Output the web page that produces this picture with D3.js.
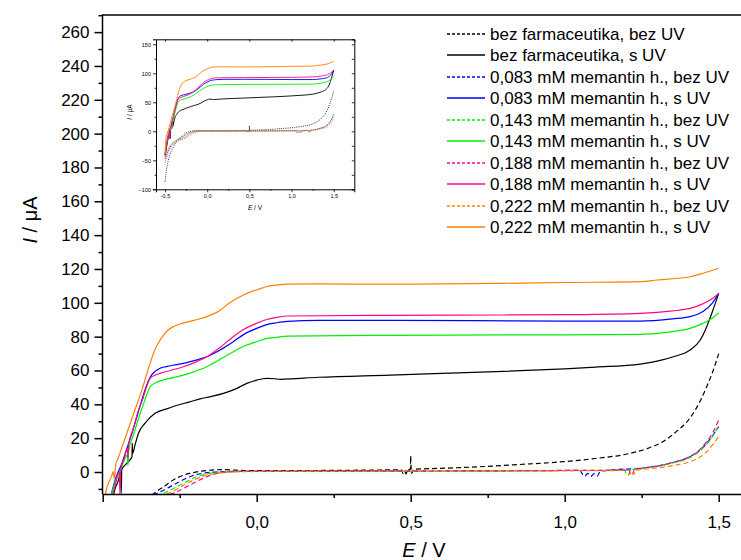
<!DOCTYPE html>
<html><head><meta charset="utf-8">
<script src="https://cdn.jsdelivr.net/npm/d3@7"></script>
<style>body{margin:0;background:#fff}svg{display:block;font-family:Arial,"Liberation Sans",sans-serif}</style>
</head><body><svg id="c" width="741" height="560"></svg>
<script>
// ---------- DATA ----------
const legendLabels = [
  "bez farmaceutika, bez UV","bez farmaceutika, s UV",
  "0,083 mM memantin h., bez UV","0,083 mM memantin h., s UV",
  "0,143 mM memantin h., bez UV","0,143 mM memantin h., s UV",
  "0,188 mM memantin h., bez UV","0,188 mM memantin h., s UV",
  "0,222 mM memantin h., bez UV","0,222 mM memantin h., s UV"];
const seriesColors = ["#000000","#000000","#0000ff","#0000ff","#00f000","#00f000","#ff0a84","#ff0a84","#ff8000","#ff8000"];
const seriesDashed = [true,false,true,false,true,false,true,false,true,false];
const xTickLabels = ["0,0","0,5","1,0","1,5"];
const insetXTickLabels = ["-0,5","0,0","0,5","1,0","1,5"];

const blankNoUV = [[-0.5,-87],[-0.48,-64],[-0.46,-50],[-0.44,-40],[-0.4,-27],[-0.36,-17],[-0.336,-13],[-0.3,-8.5],[-0.271,-4.7],[-0.24,-2],[-0.217,-0.8],[-0.19,0.2],[-0.162,0.9],[-0.135,1.3],[-0.108,1.4],[-0.08,1.2],[-0.04,0.9],[0,0.8],[0.1,0.8],[0.2,0.9],[0.3,1.0],[0.4,1.2],[0.47,1.3],[0.475,-0.8],[0.48,0.6],[0.485,-1.2],[0.49,1.4],[0.499,1.5],[0.5,9.5],[0.501,4],[0.503,-0.8],[0.51,1.6],[0.6,2.2],[0.725,3.1],[0.85,4.4],[0.995,6.1],[1.1,8],[1.212,11],[1.27,14],[1.32,18],[1.36,23.5],[1.407,32],[1.44,42],[1.461,50.4],[1.48,59],[1.5,70]];
const blankUV = [[-0.5,-42],[-0.48,-26],[-0.46,-10],[-0.445,-2],[-0.442,1.2],[-0.44,-12.6],[-0.438,1.5],[-0.425,4.5],[-0.41,7.5],[-0.405,9],[-0.404,17],[-0.403,11],[-0.395,16],[-0.384,22.9],[-0.363,28.8],[-0.33,34.7],[-0.287,37.6],[-0.255,39.6],[-0.22,41.3],[-0.184,43.2],[-0.15,44.6],[-0.108,46.5],[-0.07,49],[-0.032,52.4],[0.0,54.3],[0.032,55.4],[0.06,55.1],[0.076,54.8],[0.2,56],[0.433,57.3],[0.6,58.3],[0.8,59.5],[1.0,61],[1.1,62],[1.245,63.8],[1.3,65.5],[1.353,68.1],[1.407,72.1],[1.44,78],[1.461,85.9],[1.48,95],[1.5,105.6]];

const c083NoUV = [[-0.5,-48],[-0.47,-36],[-0.44,-27],[-0.4,-20],[-0.36,-15],[-0.319,-12.2],[-0.271,-7.7],[-0.217,-2.8],[-0.162,-0.4],[-0.108,0.2],[-0.05,0.4],[0,0.4],[0.3,0.5],[0.6,0.6],[0.9,0.8],[1.05,1.0],[1.055,-0.5],[1.065,-2.5],[1.075,-0.8],[1.085,-2.6],[1.095,-1],[1.105,-2.5],[1.115,0.2],[1.15,1.2],[1.245,2.2],[1.3,3.5],[1.35,5.5],[1.407,9],[1.44,13],[1.461,17],[1.48,21.5],[1.5,26.8]];
const c083UV = [[-0.5,-40],[-0.48,-20],[-0.465,-8],[-0.45,0],[-0.44,4],[-0.425,12],[-0.41,20],[-0.39,32],[-0.373,42.5],[-0.36,50],[-0.346,56],[-0.33,59.5],[-0.314,61.3],[-0.28,62.8],[-0.238,64.2],[-0.2,66],[-0.162,68.1],[-0.12,72],[-0.076,77],[-0.04,81.5],[0,84.9],[0.03,87],[0.065,88.2],[0.1,89],[0.2,89.6],[0.433,89.6],[0.7,89.5],[1.0,89.2],[1.245,89.2],[1.35,90.5],[1.407,91.8],[1.45,95],[1.48,100],[1.5,105.6]];

const c143NoUV = [[-0.5,-46],[-0.47,-34],[-0.44,-26],[-0.4,-19],[-0.35,-15],[-0.298,-12.2],[-0.249,-7.7],[-0.195,-2.8],[-0.13,-0.2],[-0.06,0.3],[0,0.4],[0.3,0.5],[0.6,0.6],[0.9,0.8],[1.1,1.0],[1.195,1.1],[1.2,-1.5],[1.205,-2],[1.21,-0.5],[1.215,1.3],[1.245,2.0],[1.3,3.3],[1.35,5.3],[1.407,8.6],[1.44,12.5],[1.461,16.5],[1.48,21],[1.5,27.5]];
const c143UV = [[-0.5,-38],[-0.48,-20],[-0.46,-6],[-0.44,2],[-0.43,7],[-0.42,10],[-0.418,4],[-0.416,12],[-0.4,22],[-0.385,31],[-0.363,42.5],[-0.346,50.4],[-0.325,53],[-0.303,54.4],[-0.27,55.8],[-0.238,57.3],[-0.2,59.5],[-0.162,62.2],[-0.12,66.5],[-0.076,71.1],[-0.04,74.5],[0,77],[0.03,78.8],[0.065,79.6],[0.1,80.3],[0.433,80.8],[0.8,81],[1.0,81.1],[1.245,81.4],[1.35,83],[1.407,84.9],[1.45,88],[1.48,91],[1.5,94.1]];

const c188NoUV = [[-0.5,-55],[-0.47,-40],[-0.44,-30],[-0.4,-22],[-0.33,-16],[-0.265,-12.2],[-0.217,-7.7],[-0.162,-2.8],[-0.108,-0.2],[-0.05,0.3],[0,0.4],[0.3,0.5],[0.6,0.6],[0.9,0.8],[1.1,1.0],[1.21,1.1],[1.213,-1.5],[1.218,-2],[1.222,-0.5],[1.226,1.3],[1.245,2.1],[1.3,3.5],[1.35,5.6],[1.407,9.2],[1.44,13.5],[1.461,18],[1.48,23],[1.5,30.7]];
const c188UV = [[-0.5,-42],[-0.48,-24],[-0.46,-8],[-0.446,0],[-0.444,-13],[-0.442,1],[-0.43,8],[-0.42,14],[-0.418,8],[-0.416,16],[-0.4,26],[-0.385,36],[-0.371,42.5],[-0.36,49],[-0.346,55.4],[-0.33,57.2],[-0.314,58.3],[-0.28,60],[-0.238,62.2],[-0.2,64.8],[-0.162,68.1],[-0.12,73.5],[-0.076,80],[-0.04,84.5],[0,87.9],[0.03,90],[0.065,91.4],[0.1,92.2],[0.433,92.6],[0.8,92.8],[1.0,93],[1.245,93.8],[1.35,95.2],[1.407,96.7],[1.45,99.5],[1.48,102.5],[1.5,105.6]];

const c222NoUV = [[-0.5,-44],[-0.47,-33],[-0.44,-25],[-0.4,-19],[-0.34,-15],[-0.281,-12.2],[-0.227,-6.7],[-0.173,-2.4],[-0.1,-0.2],[-0.05,0.2],[0,0.3],[0.3,0.4],[0.6,0.5],[0.9,0.6],[1.1,0.8],[1.218,0.9],[1.22,-1.2],[1.226,-1.2],[1.228,0.9],[1.245,1.4],[1.3,2.4],[1.35,3.8],[1.407,6.1],[1.44,9],[1.461,12],[1.48,16],[1.5,20.9]];
const c222UV = [[-0.5,-40],[-0.49,-12],[-0.47,-2],[-0.466,0.2],[-0.462,-4],[-0.458,4],[-0.45,8],[-0.43,18.5],[-0.41,29],[-0.39,39.5],[-0.384,42.5],[-0.37,50],[-0.35,62],[-0.33,72.5],[-0.31,79],[-0.29,83.5],[-0.27,86],[-0.24,88],[-0.2,89.8],[-0.16,92],[-0.12,95.5],[-0.09,99.7],[-0.05,104],[-0.02,106.5],[0,107.6],[0.03,109.5],[0.065,110.5],[0.1,111],[0.2,111.2],[0.4,111],[0.6,111.2],[0.8,111.5],[1.0,112],[1.245,112.5],[1.3,113.5],[1.407,115.4],[1.45,117.5],[1.5,120.4]];

const allSeries = [blankNoUV, blankUV, c083NoUV, c083UV, c143NoUV, c143UV, c188NoUV, c188UV, c222NoUV, c222UV];

// ---------- MAIN CHART ----------
const svg = d3.select("#c");
const x = d3.scaleLinear().domain([-0.5, 1.6]).range([102.7, 749.5]);
const y = d3.scaleLinear().domain([-13, 270]).range([494, 15.2]);

svg.append("defs").append("clipPath").attr("id","mc").append("rect")
  .attr("x",102.5).attr("y",15).attr("width",660).attr("height",479);

const line = d3.line().x(d=>x(d[0])).y(d=>y(d[1])).curve(d3.curveMonotoneX);
const plot = svg.append("g").attr("clip-path","url(#mc)");
const order = [0,2,4,6,8,1,3,5,7,9];
order.forEach(i=>{
  plot.append("path").datum(allSeries[i]).attr("d",line)
    .attr("fill","none").attr("stroke",seriesColors[i]).attr("stroke-width",1.2)
    .attr("stroke-dasharray",seriesDashed[i]?"5,3":null);
});

// axes
const fs = 17;
const yAx = svg.append("g").attr("transform","translate(102.5,0)")
  .call(d3.axisLeft(y).tickValues(d3.range(0,261,20)).tickSize(8).tickPadding(5).tickFormat(d3.format("d")));
const yMin = svg.append("g").attr("transform","translate(102.5,0)")
  .call(d3.axisLeft(y).tickValues(d3.range(-10,271,20)).tickSize(4).tickFormat(""));
const xAx = svg.append("g").attr("transform","translate(0,494)")
  .call(d3.axisBottom(x).tickValues([0,0.5,1.0,1.5]).tickSize(8).tickPadding(14).tickFormat((d,i)=>xTickLabels[i]));
const xMin = svg.append("g").attr("transform","translate(0,494)")
  .call(d3.axisBottom(x).tickValues([-0.25,0.25,0.75,1.25]).tickSize(4).tickFormat(""));
[yAx,yMin,xAx,xMin].forEach(g=>{
  g.selectAll(".domain").attr("stroke","#000").attr("stroke-width",1.5);
  g.selectAll(".tick line").attr("stroke","#000").attr("stroke-width",1.5);
  g.selectAll("text").attr("font-size",fs).attr("fill","#000").attr("font-family","Arial, 'Liberation Sans', sans-serif");
});
yMin.select(".domain").remove(); xMin.select(".domain").remove();
yAx.select(".domain").attr("d","M0,494V14.5");
svg.append("line").attr("x1",102.5).attr("x2",741).attr("y1",15).attr("y2",15).attr("stroke","#000").attr("stroke-width",1.5);

// axis titles
svg.append("text").attr("transform","translate(37,220) rotate(-90)").attr("text-anchor","middle")
  .attr("font-size",20).html('<tspan font-style="italic">I</tspan> / μA');
svg.append("text").attr("x",424).attr("y",557).attr("text-anchor","middle")
  .attr("font-size",20).html('<tspan font-style="italic">E</tspan> / V');

// legend
const lg = svg.append("g");
legendLabels.forEach((t,i)=>{
  const yy = Math.round(33.5 + i*21.5);
  lg.append("line").attr("x1",447).attr("x2",485).attr("y1",yy).attr("y2",yy)
    .attr("stroke",seriesColors[i]).attr("stroke-width",1.6)
    .attr("stroke-dasharray",seriesDashed[i]?"3,2":null);
  lg.append("text").attr("x",490).attr("y",yy+6).attr("font-size",17).attr("fill","#000").text(t);
});

// ---------- INSET ----------
const ix = d3.scaleLinear().domain([-0.607, 1.744]).range([156, 354.3]);
const iy = d3.scaleLinear().domain([-100, 158.6]).range([189.3, 39.3]);
const ins = svg.append("g");
ins.append("rect").attr("x",156).attr("y",39.3).attr("width",198.3).attr("height",150).attr("fill","#fff");
svg.select("defs").append("clipPath").attr("id","ic").append("rect")
  .attr("x",156).attr("y",39.3).attr("width",198.3).attr("height",150);
const iline = d3.line().x(d=>ix(d[0])).y(d=>iy(d[1])).curve(d3.curveMonotoneX);
const ip = ins.append("g").attr("clip-path","url(#ic)");
order.forEach(i=>{
  ip.append("path").datum(allSeries[i]).attr("d",iline)
    .attr("fill","none").attr("stroke",seriesColors[i]).attr("stroke-width",seriesDashed[i]?0.8:0.9)
    .attr("stroke-dasharray",seriesDashed[i]?"1,1.2":null);
});
const ifs = 5.5;
const ixA = ins.append("g").attr("transform","translate(0,189.3)")
  .call(d3.axisBottom(ix).tickValues([-0.5,0,0.5,1,1.5]).tickSize(3).tickPadding(2).tickFormat((d,i)=>insetXTickLabels[i]));
const ixM = ins.append("g").attr("transform","translate(0,189.3)")
  .call(d3.axisBottom(ix).tickValues([-0.25,0.25,0.75,1.25]).tickSize(1.5).tickFormat(""));
const iyA = ins.append("g").attr("transform","translate(156,0)")
  .call(d3.axisLeft(iy).tickValues([-100,-50,0,50,100,150]).tickSize(3).tickPadding(2).tickFormat(d3.format("d")));
const iyM = ins.append("g").attr("transform","translate(156,0)")
  .call(d3.axisLeft(iy).tickValues([-75,-25,25,75,125]).tickSize(1.5).tickFormat(""));
const itA = ins.append("g").attr("transform","translate(0,39.3)")
  .call(d3.axisBottom(ix).tickValues([-0.5,0,0.5,1,1.5]).tickSize(2.5).tickFormat(""));
const irA = ins.append("g").attr("transform","translate(354.3,0)")
  .call(d3.axisLeft(iy).tickValues([-100,-75,-50,-25,0,25,50,75,100,125,150]).tickSize(2.5).tickFormat(""));
[ixA,ixM,iyA,iyM,itA,irA].forEach(g=>{
  g.selectAll(".domain").attr("stroke","#000").attr("stroke-width",1);
  g.selectAll(".tick line").attr("stroke","#000").attr("stroke-width",0.8);
  g.selectAll("text").attr("font-size",ifs).attr("fill","#000").attr("font-family","Arial, 'Liberation Sans', sans-serif");
});
[ixM,iyM].forEach(g=>g.select(".domain").remove());
ins.append("text").attr("transform","translate(132,112) rotate(-90)").attr("text-anchor","middle")
  .attr("font-size",6.5).html('<tspan font-style="italic">I</tspan> / μA');
ins.append("text").attr("x",255).attr("y",210).attr("text-anchor","middle")
  .attr("font-size",6.5).html('<tspan font-style="italic">E</tspan> / V');
</script></body></html>
